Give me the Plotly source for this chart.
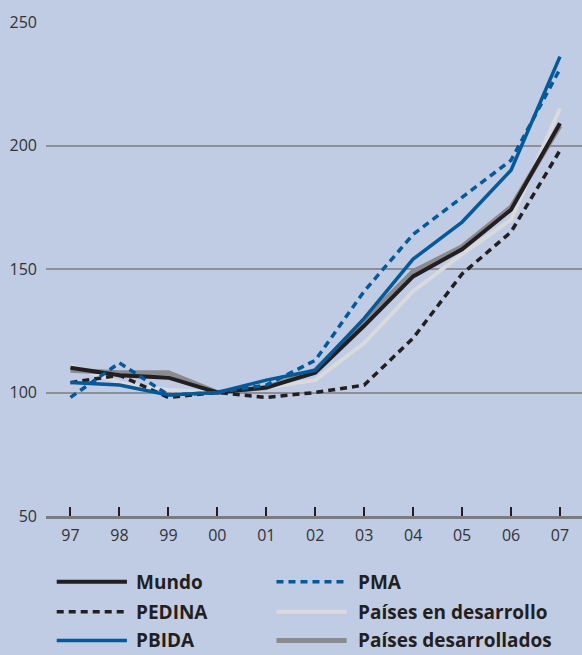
import plotly.graph_objects as go

# Years shown on the x axis
years = ["97", "98", "99", "00", "01", "02", "03", "04", "05", "06", "07"]

# Index values (2000 = 100)
mundo = [110, 107, 106, 100, 102, 108, 127, 147, 158, 174, 209]
pedina = [104, 107, 98, 100, 98, 100, 103, 122, 148, 165, 198]
pbida = [104, 103, 99, 100, 105, 109, 130, 154, 169, 190, 236]
pma = [98, 112, 99, 100, 103, 113, 141, 164, 179, 194, 231]
en_desarrollo = [111, 104, 101, 100, 102, 105, 120, 141, 156, 170, 215]
desarrollados = [109, 108, 108, 100, 102, 109, 129, 149, 159, 175, 208]

y_ticks = [50, 100, 150, 200, 250]

BG = "#BFCCE3"
BLACK = "#231F20"
BLUE = "#005A9C"
LIGHT = "#D9DADC"
GREY = "#8A8B8E"
DASH = "7px,5px"

series = [
    # name, values, colour, width, dash, legend column, legend row
    ("Países en desarrollo", en_desarrollo, LIGHT, 4, "solid", 1, 1),
    ("Países desarrollados", desarrollados, GREY, 5, "solid", 1, 2),
    ("PEDINA", pedina, BLACK, 3.5, DASH, 0, 1),
    ("Mundo", mundo, BLACK, 4, "solid", 0, 0),
    ("PBIDA", pbida, BLUE, 3.5, "solid", 0, 2),
    ("PMA", pma, BLUE, 3.5, DASH, 1, 0),
]

x = list(range(len(years)))

fig = go.Figure()
for name, vals, color, width, dash, _, _ in series:
    fig.add_trace(go.Scatter(
        x=x, y=vals, mode="lines", name=name,
        line=dict(color=color, width=width, dash=dash),
        showlegend=False, hoverinfo="skip",
    ))

# Hand-built two-column legend below the plot
col_line = [(0.020, 0.151), (0.430, 0.561)]
col_text = 0.164, 0.578
row_y = [-0.133, -0.194, -0.252]
for name, vals, color, width, dash, col, row in series:
    x0, x1 = col_line[col]
    fig.add_shape(type="line", xref="paper", yref="paper",
                  x0=x0, x1=x1, y0=row_y[row], y1=row_y[row],
                  line=dict(color=color, width=width, dash=dash))
    fig.add_annotation(xref="paper", yref="paper", x=col_text[col], y=row_y[row],
                       text=f"<b>{name}</b>", showarrow=False,
                       xanchor="left", yanchor="middle",
                       font=dict(family="Open Sans, Noto Sans, sans-serif",
                                 size=19, color=BLACK))

fig.update_layout(
    width=582, height=655,
    margin=dict(l=46, r=0, t=22, b=139),
    paper_bgcolor=BG, plot_bgcolor=BG,
    font=dict(family="Open Sans, Noto Sans, sans-serif", size=16, color="#333333"),
    xaxis=dict(
        range=[-0.5, 10.45], tickmode="array", tickvals=x, ticktext=years,
        showgrid=False, zeroline=False,
        showline=True, linecolor="#7A7C80", linewidth=3,
        ticks="inside", ticklen=9, tickwidth=2, tickcolor=BLACK,
        ticklabelstandoff=3, fixedrange=True,
    ),
    yaxis=dict(
        range=[50, 250], tickmode="array", tickvals=y_ticks,
        showgrid=True, gridcolor="#8C9099", gridwidth=1.5,
        zeroline=False, showline=False, ticks="",
        ticklabelstandoff=8, fixedrange=True,
    ),
)

fig.write_html("out.html")
